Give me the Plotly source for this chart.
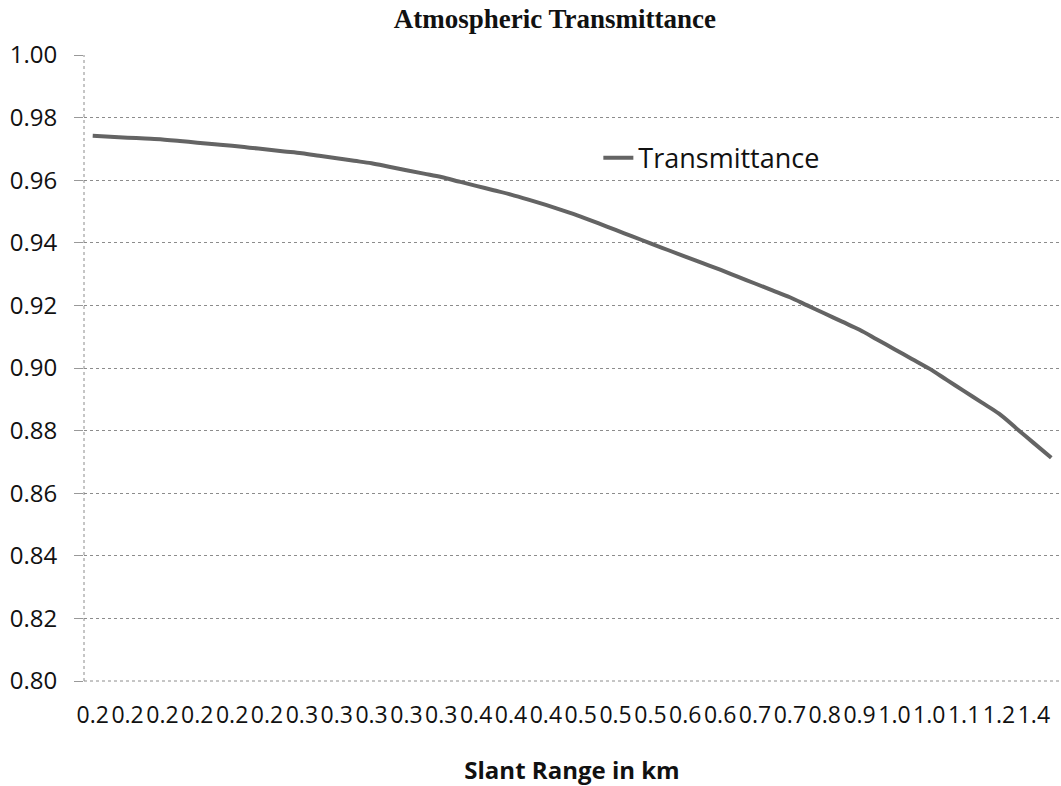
import plotly.graph_objects as go

# Category positions (56 data points); every 2nd category labelled
tick_labels = ["0.2", "0.2", "0.2", "0.2", "0.2", "0.2",
               "0.3", "0.3", "0.3", "0.3", "0.3",
               "0.4", "0.4", "0.4",
               "0.5", "0.5", "0.5",
               "0.6", "0.6",
               "0.7", "0.7",
               "0.8", "0.9",
               "1.0", "1.0",
               "1.1", "1.2", "1.4"]

transmittance = [0.9742, 0.9739, 0.9736, 0.9733, 0.9730, 0.9725, 0.9720, 0.9715,
                 0.9710, 0.9704, 0.9698, 0.9692, 0.9686, 0.9678, 0.9670, 0.9662,
                 0.9654, 0.9643, 0.9632, 0.9621, 0.9610, 0.9596, 0.9582, 0.9568,
                 0.9554, 0.9538, 0.9521, 0.9503, 0.9484, 0.9463, 0.9441, 0.9420,
                 0.9398, 0.9377, 0.9356, 0.9335, 0.9314, 0.9292, 0.9270, 0.9248,
                 0.9226, 0.9200, 0.9174, 0.9148, 0.9122, 0.9091, 0.9060, 0.9029,
                 0.8998, 0.8962, 0.8926, 0.8890, 0.8854, 0.8807, 0.8760, 0.8713]

y_ticks = [0.80, 0.82, 0.84, 0.86, 0.88, 0.90, 0.92, 0.94, 0.96, 0.98, 1.00]

x_idx = list(range(len(transmittance)))
tick_pos = list(range(0, 2 * len(tick_labels), 2))

fig = go.Figure()
fig.add_trace(go.Scatter(
    x=x_idx, y=transmittance, mode="lines", name="Transmittance",
    line=dict(color="#646464", width=4, shape="spline", smoothing=1.0),
))

fig.update_layout(
    width=1061, height=786,
    paper_bgcolor="white", plot_bgcolor="white",
    margin=dict(l=84, r=1, t=55, b=105),
    title=dict(text="<b>Atmospheric Transmittance</b>", x=0.523, xanchor="center",
               y=0.977, yanchor="middle",
               font=dict(family="Liberation Serif", size=27, color="#111")),
    showlegend=True,
    legend=dict(x=0.527, y=0.835, xanchor="left", yanchor="middle",
                bgcolor="rgba(0,0,0,0)", borderwidth=0,
                font=dict(family="Open Sans", size=27, color="#111")),
    font=dict(family="Open Sans", color="#111"),
)

fig.update_xaxes(
    range=[-0.5, len(transmittance) - 0.5],
    tickmode="array", tickvals=tick_pos, ticktext=tick_labels,
    tickfont=dict(family="Open Sans", size=23, color="#111"),
    ticks="", showgrid=False, zeroline=False, showline=False,
    ticklabelstandoff=18,
    title=dict(text="<b>Slant Range in km</b>", standoff=34,
               font=dict(family="Open Sans", size=24, color="#111")),
)

fig.update_yaxes(
    range=[0.80, 1.00],
    tickmode="array", tickvals=y_ticks,
    tickformat=".2f",
    tickfont=dict(family="Open Sans", size=24, color="#111"),
    ticks="outside", ticklen=9, tickcolor="#999",
    ticklabelstandoff=12,
    showgrid=True, gridcolor="#8c8c8c", griddash="dot", gridwidth=1,
    zeroline=False, showline=False,
)

# dotted vertical axis line and bottom line
fig.add_shape(type="line", xref="x domain", yref="y domain", x0=0, x1=0, y0=0, y1=1,
              line=dict(color="#8c8c8c", width=1, dash="dot"))
fig.add_shape(type="line", xref="x domain", yref="y domain", x0=0, x1=1, y0=0, y1=0,
              line=dict(color="#8c8c8c", width=1, dash="dot"))

fig.write_html("out.html", config={"displayModeBar": False},
               post_script="document.body.style.margin='0px';")
